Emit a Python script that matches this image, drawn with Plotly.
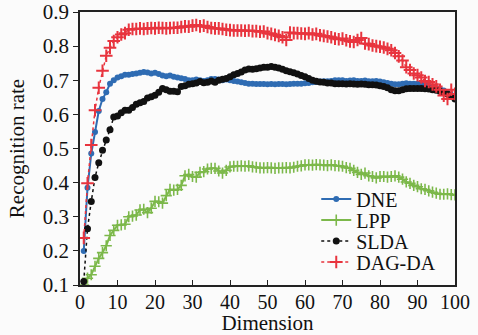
import plotly.graph_objects as go

dims = list(range(1, 101))

dne = [0.20, 0.385, 0.485, 0.548, 0.61, 0.645, 0.665, 0.69, 0.70, 0.708,
       0.712, 0.716, 0.716, 0.718, 0.72, 0.722, 0.724, 0.723, 0.72, 0.722,
       0.718, 0.714, 0.712, 0.714, 0.71, 0.708, 0.706, 0.704, 0.70, 0.70,
       0.702, 0.70, 0.698, 0.70, 0.704, 0.704, 0.702, 0.70, 0.702, 0.70,
       0.698, 0.696, 0.694, 0.692, 0.69, 0.69, 0.689, 0.689, 0.689, 0.688,
       0.689, 0.688, 0.689, 0.689, 0.688, 0.689, 0.69, 0.69, 0.69, 0.691,
       0.692, 0.694, 0.695, 0.696, 0.697, 0.697, 0.698, 0.70, 0.70, 0.70,
       0.698, 0.699, 0.70, 0.698, 0.698, 0.699, 0.697, 0.697, 0.698, 0.696,
       0.694, 0.692, 0.69, 0.688, 0.688, 0.69, 0.691, 0.69, 0.69, 0.69,
       0.688, 0.686, 0.684, 0.68, 0.677, 0.674, 0.67, 0.664, 0.657, 0.65]

lpp = [0.10, 0.12, 0.13, 0.155, 0.178, 0.195, 0.215, 0.245, 0.26, 0.275,
       0.276, 0.278, 0.30, 0.302, 0.305, 0.32, 0.322, 0.312, 0.325, 0.345,
       0.344, 0.34, 0.362, 0.38, 0.378, 0.38, 0.392, 0.42, 0.424, 0.418,
       0.416, 0.43, 0.432, 0.44, 0.442, 0.442, 0.434, 0.428, 0.436, 0.446,
       0.448, 0.448, 0.449, 0.448, 0.449, 0.446, 0.445, 0.443, 0.443, 0.444,
       0.443, 0.442, 0.443, 0.443, 0.444, 0.443, 0.445, 0.448, 0.449, 0.452,
       0.452, 0.451, 0.453, 0.452, 0.451, 0.45, 0.452, 0.45, 0.449, 0.448,
       0.444, 0.442, 0.436, 0.43, 0.424, 0.428, 0.42, 0.418, 0.414, 0.418,
       0.418, 0.416, 0.418, 0.42, 0.416, 0.41, 0.402, 0.398, 0.392, 0.388,
       0.382, 0.38, 0.376, 0.372, 0.369, 0.366, 0.366, 0.367, 0.365, 0.364]

slda = [0.11, 0.265, 0.345, 0.415, 0.458, 0.495, 0.525, 0.555, 0.592, 0.595,
        0.605, 0.612, 0.612, 0.62, 0.63, 0.634, 0.638, 0.648, 0.652, 0.656,
        0.665, 0.676, 0.672, 0.668, 0.668, 0.666, 0.682, 0.684, 0.688, 0.69,
        0.692, 0.696, 0.693, 0.694, 0.698, 0.694, 0.70, 0.703, 0.705, 0.71,
        0.716, 0.72, 0.724, 0.73, 0.733, 0.732, 0.734, 0.736, 0.738, 0.738,
        0.74, 0.738, 0.736, 0.732, 0.728, 0.725, 0.722, 0.718, 0.714, 0.71,
        0.705, 0.70, 0.697, 0.695, 0.694, 0.692, 0.692, 0.69, 0.69, 0.69,
        0.689, 0.69, 0.689, 0.688, 0.689, 0.688, 0.687, 0.687, 0.686, 0.684,
        0.682, 0.678, 0.672, 0.669, 0.669, 0.672, 0.675, 0.676, 0.676, 0.676,
        0.676, 0.675, 0.674, 0.672, 0.671, 0.668, 0.664, 0.66, 0.654, 0.645]

dagda = [0.238, 0.398, 0.51, 0.612, 0.678, 0.728, 0.772, 0.795, 0.815, 0.826,
         0.834, 0.838, 0.848, 0.85, 0.85, 0.852, 0.85, 0.852, 0.853, 0.852,
         0.854, 0.853, 0.852, 0.853, 0.854, 0.854, 0.856, 0.858, 0.857, 0.86,
         0.862, 0.858, 0.86, 0.856, 0.853, 0.852, 0.852, 0.85, 0.848, 0.847,
         0.846, 0.846, 0.846, 0.845, 0.846, 0.844, 0.844, 0.842, 0.843, 0.838,
         0.836, 0.833, 0.83, 0.826, 0.818, 0.84, 0.838, 0.838, 0.837, 0.836,
         0.838, 0.834, 0.836, 0.832, 0.83, 0.828, 0.826, 0.822, 0.82, 0.822,
         0.817, 0.814, 0.812, 0.818, 0.824, 0.808, 0.806, 0.802, 0.80, 0.798,
         0.796, 0.792, 0.788, 0.78, 0.77, 0.758, 0.738, 0.73, 0.72, 0.715,
         0.708, 0.698, 0.695, 0.688, 0.682, 0.672, 0.655, 0.645, 0.672, 0.66]

x_ticks = [0, 10, 20, 30, 40, 50, 60, 70, 80, 90, 100]
y_ticks = [0.1, 0.2, 0.3, 0.4, 0.5, 0.6, 0.7, 0.8, 0.9]

FONT = "Liberation Serif, Times New Roman, serif"
BLUE = "#2f6cb3"
GREEN = "#7cb84a"
BLACK = "#111111"
RED = "#e8343e"

fig = go.Figure()
fig.add_trace(go.Scatter(x=dims, y=dne, name="DNE", mode="lines+markers", legend="legend",
                         line=dict(color=BLUE, width=2),
                         marker=dict(symbol="circle", size=6, color=BLUE)))
fig.add_trace(go.Scatter(x=dims, y=lpp, name="LPP", mode="lines+markers", legend="legend2",
                         line=dict(color=GREEN, width=2),
                         marker=dict(symbol="cross-thin", size=8,
                                     line=dict(color=GREEN, width=1.6))))
fig.add_trace(go.Scatter(x=dims, y=slda, name="SLDA", mode="lines+markers", legend="legend3",
                         line=dict(color=BLACK, width=1.5, dash="dot"),
                         marker=dict(symbol="circle", size=7, color=BLACK)))
fig.add_trace(go.Scatter(x=dims, y=dagda, name="DAG-DA", mode="lines+markers", legend="legend4",
                         line=dict(color=RED, width=1.5, dash="dot"),
                         marker=dict(symbol="cross-thin", size=9,
                                     line=dict(color=RED, width=2))))

axis_common = dict(showline=True, linecolor="#222", linewidth=1.5, mirror=True,
                   showgrid=False, zeroline=False, automargin=False,
                   ticklen=5, tickcolor="#222", tickwidth=1.2)

def leg(yc):
    return dict(x=0.63, y=yc, xanchor="left", yanchor="middle",
                bgcolor="rgba(0,0,0,0)", borderwidth=0, itemwidth=30,
                font=dict(family=FONT, size=20, color="#111"))

fig.update_layout(
    width=478, height=335,
    margin=dict(l=80, r=23, t=12, b=50, autoexpand=False),
    paper_bgcolor="#fbfbfb", plot_bgcolor="#fbfbfb",
    font=dict(family=FONT, color="#111"),
    xaxis=dict(range=[0, 100], tickvals=x_ticks, ticks="inside",
               tickfont=dict(family=FONT, size=20, color="#111"),
               ticklabelstandoff=-2,
               title=dict(text="Dimension", font=dict(family=FONT, size=21)),
               **axis_common),
    yaxis=dict(range=[0.1, 0.9], tickvals=y_ticks, tickformat=".1f", ticks="outside",
               tickfont=dict(family=FONT, size=21, color="#111"),
               title=dict(text="Recognition rate", font=dict(family=FONT, size=21), standoff=12),
               **axis_common),
    legend=leg(0.315),
    legend2=leg(0.238),
    legend3=leg(0.161),
    legend4=leg(0.084),
    showlegend=True,
)

fig.write_html("out.html",
               config={"displayModeBar": False},
               post_script="document.body.style.margin='0px';document.body.style.background='#fbfbfb';")
